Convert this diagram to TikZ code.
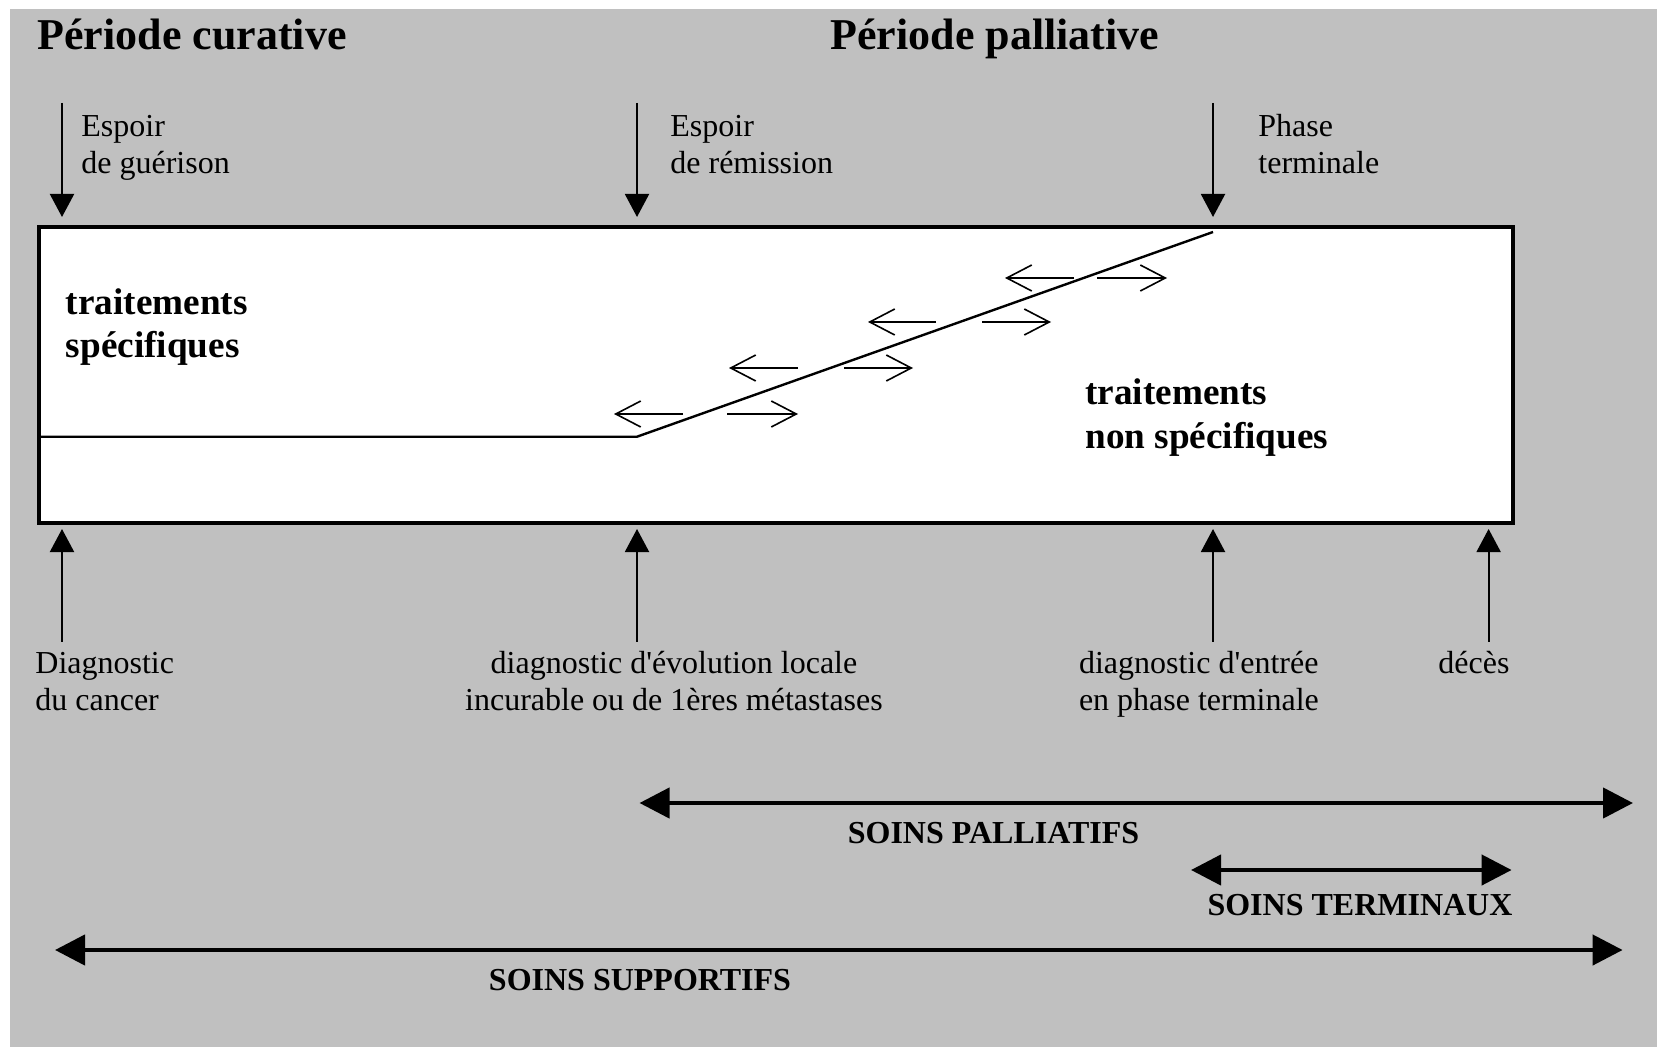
\documentclass[tikz,border=0pt]{standalone}
\usepackage{fontspec}
\setmainfont{Liberation Serif}
\usetikzlibrary{arrows.meta}
\definecolor{fondo}{RGB}{192,192,192}
\tikzset{
  texto/.style={inner sep=0pt, font=\fontsize{16}{18.6}\selectfont},
  titulo/.style={inner sep=0pt, anchor=base west, font=\bfseries\fontsize{22}{25}\selectfont},
  trat/.style={inner sep=0pt, anchor=base west, align=left, font=\bfseries\fontsize{18.6}{21.6}\selectfont},
  soins/.style={inner sep=0pt, anchor=base, font=\bfseries\fontsize{16}{19}\selectfont},
  flecha/.style={line width=1pt, -{Triangle[length=11.5pt,width=12pt]}},
  periodo/.style={line width=2.2pt, {Triangle[length=15pt,width=15pt]}-{Triangle[length=15pt,width=15pt]}},
  vaiven/.style={line width=0.8pt, -{Straight Barb[length=12.5pt,width=13pt]}}
}

\begin{document}
\begin{tikzpicture}[x=0.5pt,y=-0.5pt] % 1 px = 0.5pt
% Fondo gris
\useasboundingbox (0,0) rectangle (1657,1047);
\fill[fondo] (9.5,9) rectangle (1657,1047);
% Titulos de los periodos
\node[titulo] (curativa) at (37,50) {Période curative};
\node[titulo] (paliativa) at (830,50) {Période palliative};
% Caja de los tratamientos
\draw[line width=1.8pt, fill=white] (39,227) rectangle (1513,523);
\coordinate (izq) at (39,436.7);
\coordinate (codo) at (637,436.7);
\coordinate (cima) at (1213,232);
\draw[line width=1.2pt] (izq) -- (codo) -- (cima);
% (base = linea de abajo del texto)
\node[trat] (espec) at (65.5,358) {traitements\\spécifiques};
\node[trat] (noespec) at (1085,448) {traitements\\non spécifiques};
% Flechas de ida y vuelta sobre la diagonal
\foreach \y/\a/\b/\c/\d in {414/683/614/727/798, 368/798/729/844/913,
                             322/936/868/982/1051, 278/1074/1005/1097/1167}{
  \draw[vaiven] (\a,\y) -- (\b,\y);
  \draw[vaiven] (\c,\y) -- (\d,\y);
}
% Flechas de arriba ("Espoir", "Phase")
\coordinate (e1) at (62,103);   \coordinate (t1) at (62,217);
\coordinate (e2) at (637,103);  \coordinate (t2) at (637,217);
\coordinate (e3) at (1213,103); \coordinate (t3) at (1213,217);
\draw[flecha] (e1) -- (t1);
\draw[flecha] (e2) -- (t2);
\draw[flecha] (e3) -- (t3);
\node[texto, anchor=base west, align=left] (guerison) at (81,173.5) {Espoir\\de guérison};
\node[texto, anchor=base west, align=left] (remission) at (670,173.5) {Espoir\\de rémission};
\node[texto, anchor=base west, align=left] (phase) at (1258,173.5) {Phase\\terminale};
% Flechas de abajo (diagnosticos)
\coordinate (d1) at (62,641.7);   \coordinate (b1) at (62,529);
\coordinate (d2) at (637,641.7);  \coordinate (b2) at (637,529);
\coordinate (d3) at (1213,641.7); \coordinate (b3) at (1213,529);
\coordinate (d4) at (1488.6,641.7); \coordinate (b4) at (1488.6,529);
\draw[flecha] (d1) -- (b1);
\draw[flecha] (d2) -- (b2);
\draw[flecha] (d3) -- (b3);
\draw[flecha] (d4) -- (b4);
\node[texto, anchor=base west, align=left] (cancer) at (35,710.7) {Diagnostic\\du cancer};
\node[texto, anchor=base, align=center] (evolution) at (674,710.7) {diagnostic d\textquotesingle évolution locale\\incurable ou de 1ères métastases};
\node[texto, anchor=base west, align=left] (entree) at (1078.6,710.7) {diagnostic d\textquotesingle entrée\\en phase terminale};
\node[texto, anchor=base] (deces) at (1474,673) {décès};
% Periodos de cuidados
\coordinate (pa) at (639.5,803); \coordinate (pb) at (1633,803);
\coordinate (ta) at (1191,870);  \coordinate (tb) at (1511.6,870);
\coordinate (sa) at (55,950);    \coordinate (sb) at (1622.6,950);
\draw[periodo] (pa) -- (pb);
\draw[periodo] (ta) -- (tb);
\draw[periodo] (sa) -- (sb);
\node[soins] (palliatifs) at (993.5,843) {SOINS PALLIATIFS};
\node[soins] (terminaux) at (1360,915) {SOINS TERMINAUX};
\node[soins] (supportifs) at (640,990.7) {SOINS SUPPORTIFS};
\end{tikzpicture}
\end{document}
